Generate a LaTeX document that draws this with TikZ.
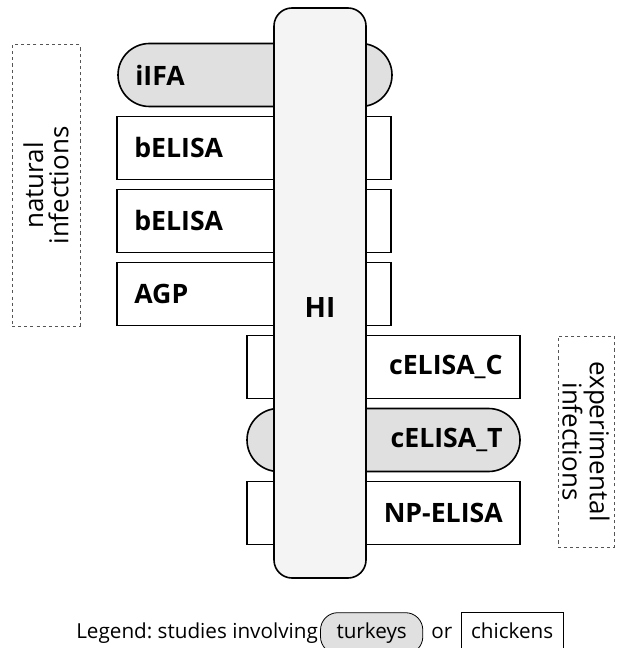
\documentclass[tikz,border=0pt]{standalone}
\usepackage{fontspec}
\setmainfont{Open Sans}
\usetikzlibrary{positioning}

\definecolor{turkeyfill}{HTML}{E0E0E0}
\definecolor{hifill}{HTML}{F4F4F4}
\definecolor{groupline}{HTML}{555555}

\tikzset{
  assay/.style={draw=black, line width=1.2pt, inner ysep=0pt,
    minimum height=47.25pt, font=\fontsize{20}{24}\selectfont\bfseries},
  leftassay/.style={assay, inner xsep=13pt, text width=179.5pt, align=left},
  rightassay/.style={assay, inner xsep=13pt, text width=178.75pt, align=right},
  chicken/.style={fill=white},
  turkey/.style={fill=turkeyfill, rounded corners=23.6pt},
  grouplabel/.style={draw=groupline, line width=0.75pt, dash pattern=on 2.3pt off 2.3pt,
    inner sep=0pt},
  grouptext/.style={font=\fontsize{19.5}{19}\selectfont, align=center, inner sep=0pt},
  legendtext/.style={font=\fontsize{15.5}{18}\selectfont, inner sep=0pt, anchor=base west},
  legendbox/.style={draw=black, line width=0.6pt, anchor=base west,
    font=\fontsize{15.5}{18}\selectfont, text height=11pt, text depth=4pt, inner ysep=8pt}
}

\begin{document}
\frenchspacing
\begin{tikzpicture}[x=0.75pt, y=-0.75pt]
\useasboundingbox (0,0) rectangle (619,648);

% natural infections (left column)
\node[leftassay, turkey]  (iifa)   at (255,75)  {iIFA};
\node[leftassay, chicken] (belisa1) at (254,148) {bELISA};
\node[leftassay, chicken] (belisa2) at (254,221) {bELISA};
\node[leftassay, chicken] (agp)    at (254,294) {AGP};

% experimental infections (right column)
\node[rightassay, chicken] (celisac) at (383.5,367) {cELISA\_C};
\node[rightassay, turkey]  (celisat) at (383.5,440) {cELISA\_T};
\node[rightassay, chicken] (npelisa) at (383.5,513) {NP-ELISA};

% HI spans every study
\node[draw=black, line width=1.2pt, fill=hifill, rounded corners=13.5pt,
      minimum width=69pt, minimum height=427.5pt, inner sep=0pt] (hi) at (320,293) {};
\node[font=\fontsize{21}{24}\selectfont\bfseries, inner sep=0pt] (hilabel) at (320,308) {HI};

% group frames
\node[grouplabel, minimum width=51pt, minimum height=210.75pt] (natbox) at (46,185.5) {};
\node[grouptext, rotate=90] (nattext) at (natbox.center) {natural\\infections};
\node[grouplabel, minimum width=42pt, minimum height=158.25pt] (expbox) at (586,441.5) {};
\node[grouptext, rotate=-90] (exptext) at (expbox.center) {experimental\\infections};

% legend
\node[legendtext] (legend) at (76,638) {Legend: studies involving};
\node[legendbox, fill=turkeyfill, rounded corners=13pt, inner xsep=12pt]
  (legturkey) at ([xshift=1.5pt]legend.base east) {turkeys};
\node[legendtext] (legor) at ([xshift=6pt]legturkey.base east) {or};
\node[legendbox, fill=white, inner xsep=7.5pt]
  (legchicken) at ([xshift=6pt]legor.base east) {chickens};
\end{tikzpicture}
\end{document}
